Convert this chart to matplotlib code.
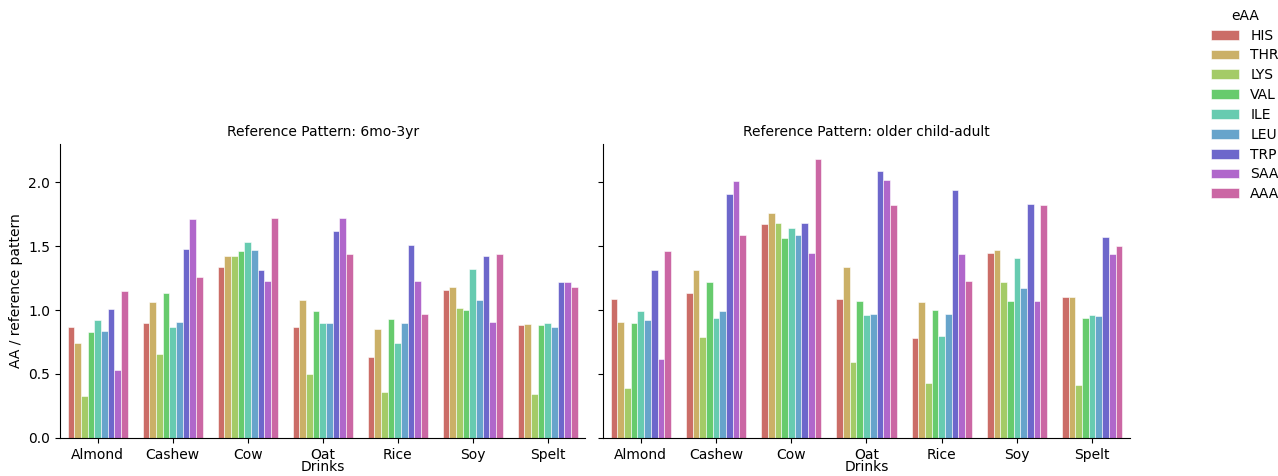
import matplotlib
matplotlib.use("Agg")
import matplotlib.pyplot as plt
import numpy as np
import seaborn as sns

drinks = ["Almond", "Cashew", "Cow", "Oat", "Rice", "Soy", "Spelt"]
eaa = ["HIS", "THR", "LYS", "VAL", "ILE", "LEU", "TRP", "SAA", "AAA"]
patterns = ["Reference Pattern: 6mo-3yr", "Reference Pattern: older child-adult"]

# rows: drinks, columns: eAA
ratio_6mo_3yr = [
    [0.87, 0.74, 0.33, 0.83, 0.92, 0.84, 1.01, 0.53, 1.15],
    [0.90, 1.06, 0.66, 1.13, 0.87, 0.91, 1.48, 1.71, 1.26],
    [1.34, 1.42, 1.42, 1.46, 1.53, 1.47, 1.31, 1.23, 1.72],
    [0.87, 1.08, 0.50, 0.99, 0.90, 0.90, 1.62, 1.72, 1.44],
    [0.63, 0.85, 0.36, 0.93, 0.74, 0.90, 1.51, 1.23, 0.97],
    [1.16, 1.18, 1.02, 1.00, 1.32, 1.08, 1.42, 0.91, 1.44],
    [0.88, 0.89, 0.34, 0.88, 0.90, 0.87, 1.22, 1.22, 1.18],
]
ratio_older_child_adult = [
    [1.09, 0.91, 0.39, 0.90, 0.99, 0.92, 1.31, 0.62, 1.46],
    [1.13, 1.31, 0.79, 1.22, 0.94, 0.99, 1.91, 2.01, 1.59],
    [1.67, 1.76, 1.68, 1.56, 1.64, 1.59, 1.68, 1.45, 2.18],
    [1.09, 1.34, 0.59, 1.07, 0.96, 0.97, 2.09, 2.02, 1.82],
    [0.78, 1.06, 0.43, 1.00, 0.80, 0.97, 1.94, 1.44, 1.23],
    [1.45, 1.47, 1.22, 1.07, 1.41, 1.17, 1.83, 1.07, 1.82],
    [1.10, 1.10, 0.41, 0.94, 0.96, 0.95, 1.57, 1.44, 1.50],
]

colors = sns.color_palette("hls", len(eaa), desat=0.75)

fig = plt.figure(figsize=(12.78, 4.76), dpi=100)
ax1 = fig.add_axes([0.047, 0.080, 0.411, 0.617])
ax2 = fig.add_axes([0.472, 0.080, 0.412, 0.617], sharey=ax1)

x = np.arange(len(drinks))
width = 0.8 / len(eaa)
handles = []
for ax, title, data in zip([ax1, ax2], patterns, [ratio_6mo_3yr, ratio_older_child_adult]):
    arr = np.array(data)
    for j, name in enumerate(eaa):
        offs = -0.4 + width * (j + 0.5)
        b = ax.bar(x + offs, arr[:, j], width=width, color=colors[j],
                   edgecolor="white", linewidth=0.4, label=name)
        if ax is ax1:
            handles.append(b)
    ax.set_title(title, fontsize=10)
    ax.set_xticks(x)
    ax.set_xticklabels(drinks, fontsize=10)
    ax.set_xlim(-0.5, len(drinks) - 0.5)
    ax.set_xlabel("Drinks", fontsize=10, labelpad=-1)
    ax.spines["top"].set_visible(False)
    ax.spines["right"].set_visible(False)
    ax.tick_params(labelsize=10)

ax1.set_ylim(0, 2.297)
ax1.set_yticks([0.0, 0.5, 1.0, 1.5, 2.0])
ax1.set_ylabel("AA / reference pattern", fontsize=10)
plt.setp(ax2.get_yticklabels(), visible=False)

fig.legend(handles, eaa, title="eAA", loc="upper left", bbox_to_anchor=(0.938, 1.008),
           frameon=False, fontsize=10, title_fontsize=10, handlelength=2.0,
           labelspacing=0.42)

fig.savefig("out.png", dpi=100)
